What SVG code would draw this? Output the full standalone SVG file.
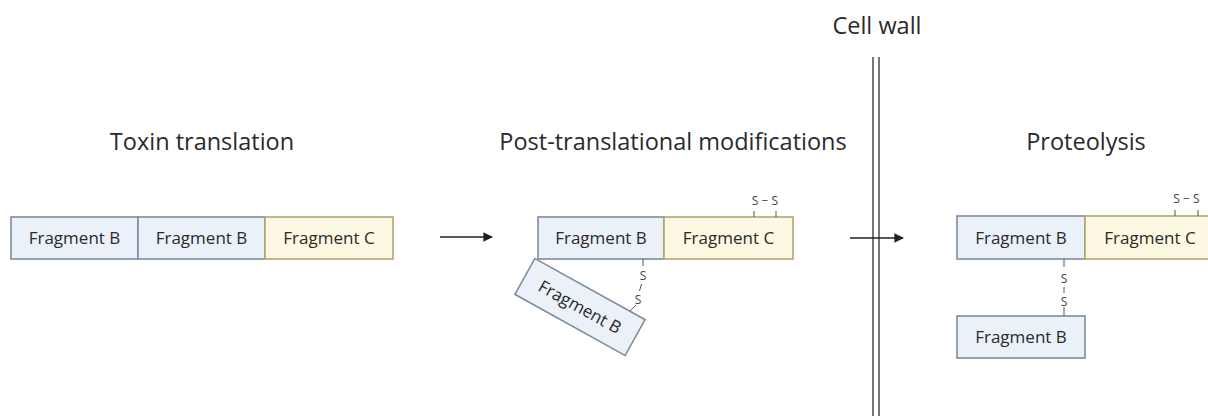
<svg xmlns="http://www.w3.org/2000/svg" width="1208" height="416" viewBox="0 0 1208 416">
  <style>
    .title { font-family: "Open Sans", "Noto Sans", sans-serif; font-size: 23.5px; fill: #2a2a2a; text-anchor: middle; }
    .lbl { font-family: "Open Sans", "Noto Sans", sans-serif; font-size: 17px; fill: #2a2a2a; text-anchor: middle; }
    .s { font-family: "Open Sans", "Noto Sans", sans-serif; font-size: 12px; fill: #444; text-anchor: middle; }
    .fb { fill: #eaf1f9; stroke: #7f8c9e; stroke-width: 1.6; }
    .fc { fill: #fcf8e1; stroke: #b5a670; stroke-width: 1.6; }
    .bond { stroke: #555; stroke-width: 1; fill: none; }
    .wall { stroke: #555; stroke-width: 1.6; }
    .arrow { stroke: #222; stroke-width: 1.6; fill: none; marker-end: url(#head); }
  </style>
  <defs>
    <marker id="head" viewBox="0 0 10 10" refX="9" refY="5" markerWidth="6" markerHeight="6" orient="auto" markerUnits="strokeWidth">
      <path d="M0,0 L10,5 L0,10 z" fill="#222"/>
    </marker>
  </defs>

  <rect width="1208" height="416" fill="#ffffff"/>

  <!-- stage titles -->
  <text class="title" x="202" y="150">Toxin translation</text>
  <text class="title" x="673" y="150">Post-translational modifications</text>
  <text class="title" x="1086" y="150">Proteolysis</text>
  <text class="title" x="877" y="34">Cell wall</text>

  <!-- cell wall -->
  <g id="cell-wall">
    <line class="wall" x1="873" y1="57" x2="873" y2="416"/>
    <line class="wall" x1="879" y1="57" x2="879" y2="416"/>
  </g>

  <!-- stage 1: translated chain -->
  <g id="t-frag-b1">
    <rect class="fb" x="11" y="217" width="127" height="42"/>
    <text class="lbl" x="74.5" y="244">Fragment B</text>
  </g>
  <g id="t-frag-b2">
    <rect class="fb" x="138" y="217" width="127" height="42"/>
    <text class="lbl" x="201.5" y="244">Fragment B</text>
  </g>
  <g id="t-frag-c">
    <rect class="fc" x="265" y="217" width="128" height="42"/>
    <text class="lbl" x="329" y="244">Fragment C</text>
  </g>

  <!-- stage 2: folded toxin -->
  <g id="p-frag-b">
    <rect class="fb" x="538" y="217" width="126" height="42"/>
    <text class="lbl" x="601" y="244">Fragment B</text>
  </g>
  <g id="p-frag-c">
    <rect class="fc" x="664" y="217" width="129" height="42"/>
    <text class="lbl" x="728.5" y="244">Fragment C</text>
    <line class="bond" x1="754" y1="211" x2="754" y2="217"/>
    <line class="bond" x1="776" y1="211" x2="776" y2="217"/>
    <text class="s" x="765" y="205">S − S</text>
  </g>
  <g id="p-frag-b-folded" transform="translate(580 307) rotate(29)">
    <rect class="fb" x="-63" y="-20.5" width="126" height="41"/>
    <text class="lbl" x="0" y="6">Fragment B</text>
  </g>
  <g id="p-bridge">
    <line class="bond" x1="643" y1="259" x2="643" y2="266"/>
    <text class="s" x="643" y="280">S</text>
    <line class="bond" x1="641.5" y1="284" x2="639.5" y2="291"/>
    <text class="s" x="638" y="304">S</text>
    <line class="bond" x1="636" y1="305" x2="630" y2="311"/>
  </g>

  <!-- stage 3: cleaved toxin -->
  <g id="r-frag-b">
    <rect class="fb" x="957" y="216" width="128" height="43"/>
    <text class="lbl" x="1021" y="244">Fragment B</text>
  </g>
  <g id="r-frag-c">
    <rect class="fc" x="1085" y="216" width="130" height="43"/>
    <text class="lbl" x="1150" y="244">Fragment C</text>
    <line class="bond" x1="1175" y1="210" x2="1175" y2="216"/>
    <line class="bond" x1="1198" y1="210" x2="1198" y2="216"/>
    <text class="s" x="1186.5" y="203">S − S</text>
  </g>
  <g id="r-frag-b-light">
    <rect class="fb" x="957" y="316" width="128" height="42"/>
    <text class="lbl" x="1021" y="343">Fragment B</text>
  </g>
  <g id="r-bridge">
    <line class="bond" x1="1064" y1="259" x2="1064" y2="267"/>
    <text class="s" x="1064" y="283">S</text>
    <line class="bond" x1="1064" y1="287" x2="1064" y2="293"/>
    <text class="s" x="1064" y="306">S</text>
    <line class="bond" x1="1064" y1="307" x2="1064" y2="316"/>
  </g>

  <!-- connectors -->
  <g id="connectors">
    <line class="arrow" x1="440" y1="237" x2="492" y2="237"/>
    <line class="arrow" x1="850" y1="238" x2="903" y2="238"/>
  </g>
</svg>
